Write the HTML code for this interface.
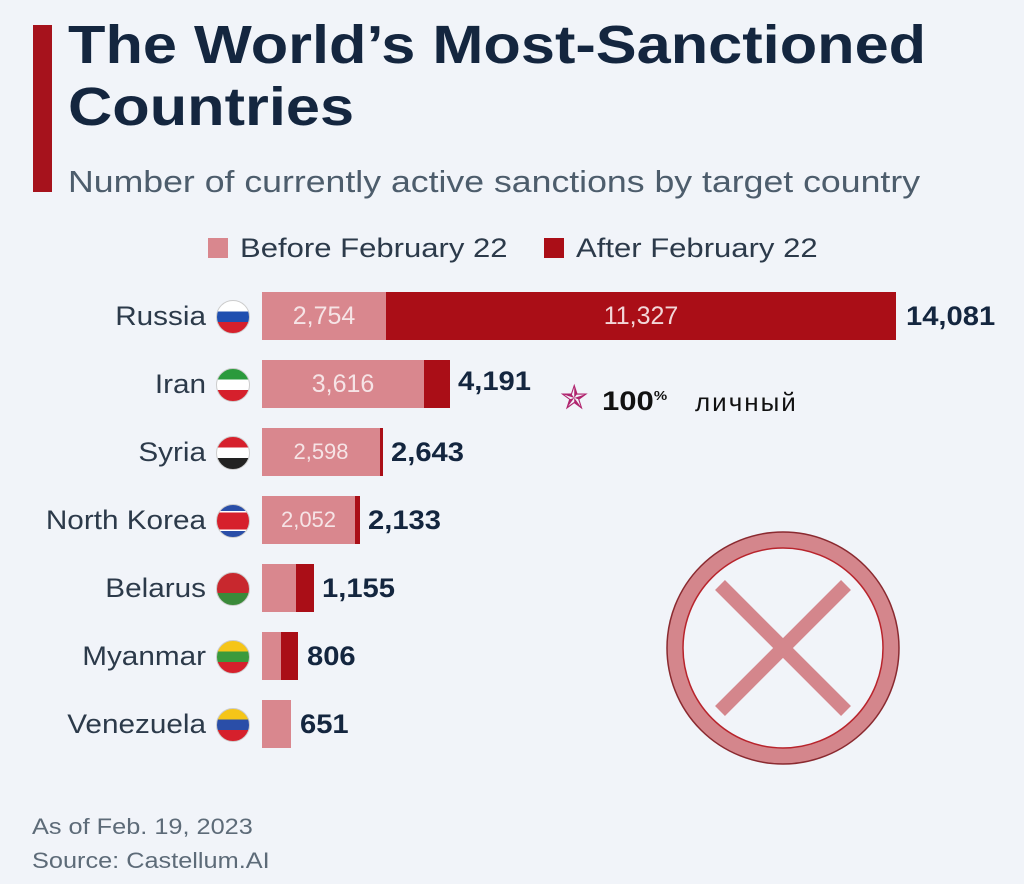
<!DOCTYPE html><html><head><meta charset="utf-8"><style>
body{margin:0;width:1024px;height:884px;background:#f1f4f9;font-family:"Liberation Sans","DejaVu Sans",sans-serif;position:relative;overflow:hidden}
.a{position:absolute;white-space:nowrap}
.t{left:68px;top:14px;font-size:54px;font-weight:bold;color:#14263f;line-height:62px;transform:scaleX(1.135);transform-origin:left top}
.s{left:68px;top:164px;font-size:31px;color:#4d5d6c;transform:scaleX(1.15);transform-origin:left top}
.lab{font-size:27px;color:#2c3a4a;text-align:right;width:200px;left:6px;transform:scaleX(1.1);transform-origin:right top}
.b1{background:#d9878e;height:48px;color:#f6e4e6;font-size:25px;text-align:center;line-height:48px;overflow:hidden}
.b2{background:#aa0e17;height:48px;color:#f2d6d8;font-size:25px;text-align:center;line-height:48px}
.v{font-size:27px;font-weight:bold;color:#14263f;line-height:48px;transform:scaleX(1.08);transform-origin:left top}
.f{width:32px;height:32px;border-radius:50%;left:216px;overflow:hidden;border:1px solid #ccc}
.n{font-size:22px;color:#5d6b78;transform:scaleX(1.15);transform-origin:left top}
.lg{font-size:27px;color:#2c3a4a;transform:scaleX(1.15);transform-origin:left top}
</style></head><body>
<div class="a" style="left:33px;top:25px;width:19px;height:167px;background:#a6121c"></div>
<div class="a t">The World’s Most-Sanctioned<br>Countries</div>
<div class="a s">Number of currently active sanctions by target country</div>
<div class="a" style="left:208px;top:238px;width:20px;height:20px;background:#d9878e"></div>
<div class="a lg" style="left:240px;top:233px">Before February 22</div>
<div class="a" style="left:544px;top:238px;width:20px;height:20px;background:#aa0e17"></div>
<div class="a lg" style="left:576px;top:233px">After February 22</div>

<div class="a lab" style="top:301px">Russia</div>
<div class="a f" style="top:300px;background:linear-gradient(#fff 33%,#1f4fb0 33% 66%,#d6202c 66%)"></div>
<div class="a b1" style="left:262px;top:292px;width:124px">2,754</div>
<div class="a b2" style="left:386px;top:292px;width:510px">11,327</div>
<div class="a v" style="left:906px;top:292px">14,081</div>

<div class="a lab" style="top:369px">Iran</div>
<div class="a f" style="top:368px;background:linear-gradient(#2a9a3c 33%,#fff 33% 66%,#d6202c 66%)"></div>
<div class="a b1" style="left:262px;top:360px;width:162px">3,616</div>
<div class="a b2" style="left:424px;top:360px;width:26px"></div>
<div class="a v" style="left:458px;top:357px">4,191</div>

<div class="a lab" style="top:437px">Syria</div>
<div class="a f" style="top:436px;background:linear-gradient(#d6202c 33%,#fff 33% 66%,#222 66%)"></div>
<div class="a b1" style="left:262px;top:428px;width:118px;font-size:22px">2,598</div>
<div class="a b2" style="left:380px;top:428px;width:3px"></div>
<div class="a v" style="left:391px;top:428px">2,643</div>

<div class="a lab" style="top:505px">North Korea</div>
<div class="a f" style="top:504px;background:linear-gradient(#2a4ea8 18%,#fff 18% 24%,#d6202c 24% 76%,#fff 76% 82%,#2a4ea8 82%)"></div>
<div class="a b1" style="left:262px;top:496px;width:93px;font-size:22px">2,052</div>
<div class="a b2" style="left:355px;top:496px;width:5px"></div>
<div class="a v" style="left:368px;top:496px">2,133</div>

<div class="a lab" style="top:573px">Belarus</div>
<div class="a f" style="top:572px;background:linear-gradient(#c8282e 62%,#3a8a3a 62%)"></div>
<div class="a b1" style="left:262px;top:564px;width:34px"></div>
<div class="a b2" style="left:296px;top:564px;width:18px"></div>
<div class="a v" style="left:322px;top:564px">1,155</div>

<div class="a lab" style="top:641px">Myanmar</div>
<div class="a f" style="top:640px;background:linear-gradient(#f5c518 33%,#3a9a3c 33% 66%,#d6202c 66%)"></div>
<div class="a b1" style="left:262px;top:632px;width:19px"></div>
<div class="a b2" style="left:281px;top:632px;width:17px"></div>
<div class="a v" style="left:307px;top:632px">806</div>

<div class="a lab" style="top:709px">Venezuela</div>
<div class="a f" style="top:708px;background:linear-gradient(#f5c518 33%,#2a4ea8 33% 66%,#d6202c 66%)"></div>
<div class="a b1" style="left:262px;top:700px;width:29px"></div>
<div class="a v" style="left:300px;top:700px">651</div>

<div class="a" style="left:560px;top:378px;width:32px;height:52px;color:#b0246e;font-size:34px;line-height:40px">✯</div>
<div class="a" style="left:602px;top:386px;font-size:27px;font-weight:bold;color:#111;transform:scaleX(1.15);transform-origin:left top">100<sup style="font-size:13px">%</sup></div>
<div class="a" style="left:695px;top:387px;font-size:26px;color:#111;letter-spacing:2px">личный</div>

<svg class="a" style="left:0;top:0" width="1024" height="884">
<circle cx="783" cy="648" r="108" fill="none" stroke="#d4868c" stroke-width="16"/>
<circle cx="783" cy="648" r="116" fill="none" stroke="#8a2a30" stroke-width="1.5"/>
<circle cx="783" cy="648" r="100" fill="none" stroke="#b8242c" stroke-width="1.5"/>
<line x1="720" y1="585" x2="846" y2="711" stroke="#d4868c" stroke-width="14"/>
<line x1="846" y1="585" x2="720" y2="711" stroke="#d4868c" stroke-width="14"/>
</svg>
<div class="a n" style="left:32px;top:814px">As of Feb. 19, 2023</div>
<div class="a n" style="left:32px;top:848px">Source: Castellum.AI</div>
</body></html>
